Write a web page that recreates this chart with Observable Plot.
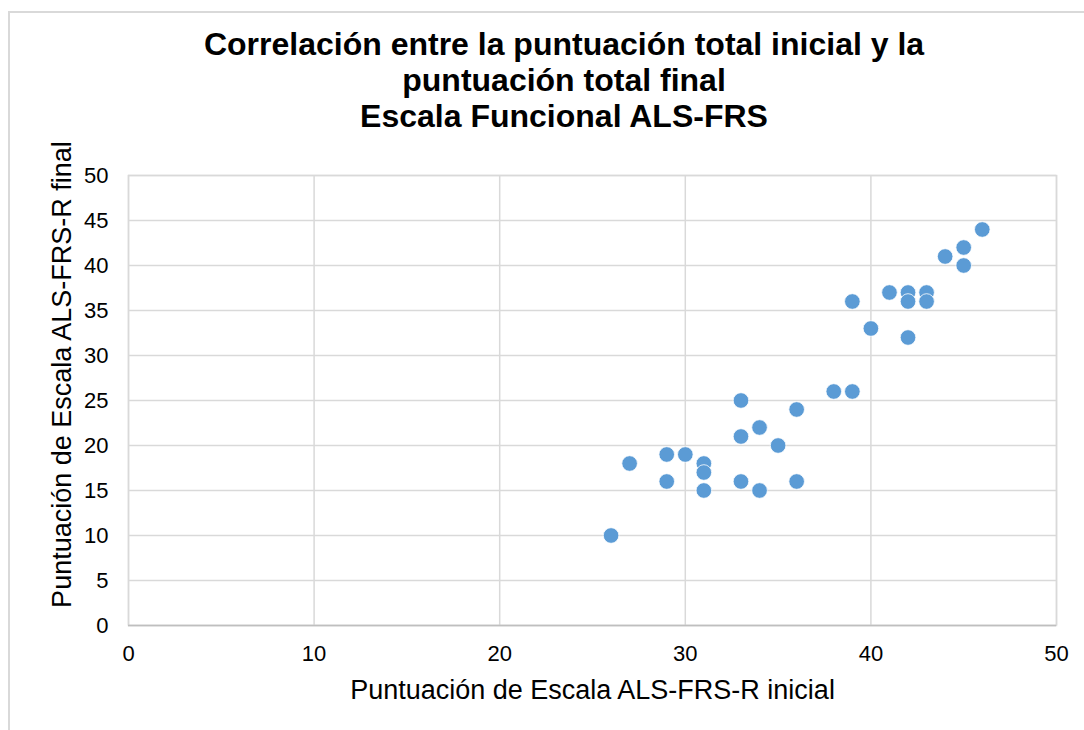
<!DOCTYPE html>
<html><head><meta charset="utf-8">
<script src="https://cdn.jsdelivr.net/npm/d3@7"></script>
<script src="https://cdn.jsdelivr.net/npm/@observablehq/plot@0.6"></script>
<style>
body{margin:0;background:#fff;font-family:"Liberation Sans",Arial,sans-serif;}
#wrap{position:relative;width:1084px;height:730px;overflow:hidden;}
#border{position:absolute;left:8px;top:11px;width:1100px;height:740px;border-left:2px solid #d9d9d9;border-top:2px solid #d9d9d9;}
#title{position:absolute;left:0;width:1128px;top:26px;text-align:center;font-weight:bold;font-size:32px;line-height:36px;color:#000;}
#chart{position:absolute;left:0;top:0;}
</style></head>
<body>
<div id="wrap">
<div id="border"></div>
<div id="chart"></div>
<div id="title">Correlación entre la puntuación total inicial y la<br>puntuación total final<br>Escala Funcional ALS-FRS</div>
</div>
<script>
const initial = [26, 27, 29, 29, 30, 31, 31, 31, 33, 33, 33, 34, 34, 35, 36, 36, 38, 39, 39, 40, 41, 42, 42, 42, 43, 43, 44, 45, 45, 46];
const final   = [10, 18, 19, 16, 19, 18, 17, 15, 25, 21, 16, 22, 15, 20, 24, 16, 26, 26, 36, 33, 37, 37, 36, 32, 37, 36, 41, 42, 40, 44];
const xTicks = [0, 10, 20, 30, 40, 50];
const yTicks = [0, 5, 10, 15, 20, 25, 30, 35, 40, 45, 50];
const xLabel = "Puntuación de Escala ALS-FRS-R inicial";
const yLabel = "Puntuación de Escala ALS-FRS-R final";

const data = initial.map((x, i) => ({x, y: final[i]}));

const chart = Plot.plot({
  width: 1084,
  height: 730,
  marginLeft: 128,
  marginRight: 28,
  marginTop: 175,
  marginBottom: 105,
  style: {fontFamily: '"Liberation Sans", Arial, sans-serif', color: "#000", background: "transparent"},
  x: {domain: [0, 50], ticks: xTicks},
  y: {domain: [0, 50], ticks: yTicks},
  marks: [
    Plot.gridX(xTicks, {stroke: "#d9d9d9", strokeOpacity: 1, strokeWidth: 1.5}),
    Plot.gridY(yTicks, {stroke: "#d9d9d9", strokeOpacity: 1, strokeWidth: 1.5}),
    Plot.frame({stroke: "#d9d9d9", strokeWidth: 1.5}),
    Plot.ruleY([0], {stroke: "#bfbfbf", strokeWidth: 1.5}),
    Plot.axisX({ticks: xTicks, tickSize: 0, tickPadding: 20, fontSize: 22, label: null}),
    Plot.axisY({ticks: yTicks, tickSize: 0, tickPadding: 20, fontSize: 22, label: null}),
    Plot.text([xLabel], {text: d => d, frameAnchor: "bottom", dy: 54, lineAnchor: "top", fontSize: 27, fill: "#000"}),
    Plot.text([yLabel], {text: d => d, frameAnchor: "left", textAnchor: "middle", lineAnchor: "middle", rotate: -90, dx: -66, dy: -26, fontSize: 27, fill: "#000"}),
    Plot.dot(data, {x: "x", y: "y", r: 7.8, fill: "#5b9bd5", stroke: "white", strokeWidth: 0.8})
  ]
});
document.getElementById("chart").appendChild(chart);
</script>
</body></html>
